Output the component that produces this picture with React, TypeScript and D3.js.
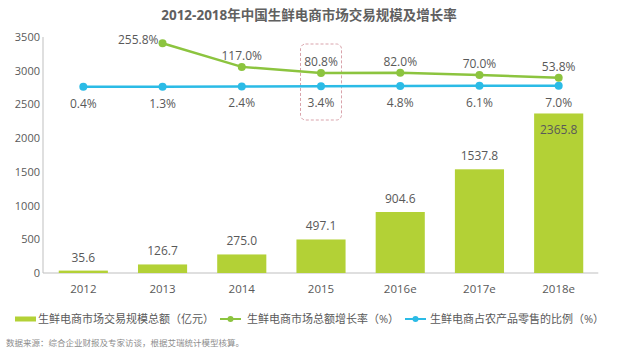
import React from "react";
import * as d3 from "d3";

const categories = ["2012", "2013", "2014", "2015", "2016e", "2017e", "2018e"];
const marketSize = [35.6, 126.7, 275.0, 497.1, 904.6, 1537.8, 2365.8];
const growthRate: (number | null)[] = [null, 255.8, 117.0, 80.8, 82.0, 70.0, 53.8];
const penetration = [0.4, 1.3, 2.4, 3.4, 4.8, 6.1, 7.0];
const yTicks = [0, 500, 1000, 1500, 2000, 2500, 3000, 3500];

const title = "2012-2018年中国生鲜电商市场交易规模及增长率";
const legendLabels = [
  "生鲜电商市场交易规模总额（亿元）",
  "生鲜电商市场总额增长率（%）",
  "生鲜电商占农产品零售的比例（%）",
];
const source = "数据来源：综合企业财报及专家访谈，根据艾瑞统计模型核算。";

const W = 625;
const H = 353;
const BAR = "#b3d136";
const GREEN = "#8cc43f";
const BLUE = "#2bbbe6";
const TEXT = "#595959";
const FONT = "'Open Sans', 'Noto Sans CJK SC', sans-serif";

export default function App() {
  const x = d3.scaleBand<string>().domain(categories).range([43.7, 598.3]).paddingInner(0.38).paddingOuter(0.19);
  const y = d3.scaleLinear().domain([0, 3500]).range([273, 37]);
  const p = d3.scaleLinear().domain([-1090, 292]).range([273, 37]);
  const cx = (c: string) => (x(c) as number) + x.bandwidth() / 2;

  const growthPts = categories
    .map((c, i) => ({ c, v: growthRate[i] }))
    .filter((d) => d.v !== null) as { c: string; v: number }[];
  const penPts = categories.map((c, i) => ({ c, v: penetration[i] }));

  const line = d3
    .line<{ c: string; v: number }>()
    .x((d) => cx(d.c))
    .y((d) => p(d.v));

  const x2015 = cx("2015");

  return (
    <svg
      width={W}
      height={H}
      style={{ position: "absolute", left: 0, top: 0, background: "#fff" }}
      fontFamily={FONT}
    >
      <text x={309} y={20} textAnchor="middle" fontSize={13.5} fontWeight="bold" fill="#606060">
        {title}
      </text>

      {/* axes */}
      <line x1={43} x2={43} y1={y(3500)} y2={y(0)} stroke="#bfbfbf" strokeWidth={1} />
      <line x1={43} x2={598.3} y1={y(0)} y2={y(0)} stroke="#bfbfbf" strokeWidth={1} />
      {yTicks.map((t) => (
        <text key={t} x={40} y={y(t) + 4} textAnchor="end" fontSize={11} fill={TEXT}>
          {t}
        </text>
      ))}
      {categories.map((c) => (
        <text key={c} x={cx(c)} y={293} textAnchor="middle" fontSize={11.5} fill={TEXT}>
          {c}
        </text>
      ))}

      {/* bars */}
      {categories.map((c, i) => {
        const top = y(marketSize[i]);
        const inside = top < 120;
        return (
          <g key={c}>
            <rect x={x(c)} y={top} width={x.bandwidth()} height={y(0) - top} fill={BAR} />
            <text
              x={cx(c)}
              y={inside ? top + 21 : top - 9}
              textAnchor="middle"
              fontSize={12}
              fill={TEXT}
            >
              {marketSize[i].toFixed(1)}
            </text>
          </g>
        );
      })}

      {/* highlight box */}
      <rect
        x={x2015 - 20.5}
        y={44}
        width={41}
        height={76}
        rx={5}
        fill="none"
        stroke="#d9a3ab"
        strokeWidth={1}
        strokeDasharray="3,2"
      />

      {/* lines */}
      <path d={line(penPts) || ""} fill="none" stroke={BLUE} strokeWidth={2.5} />
      <path d={line(growthPts) || ""} fill="none" stroke={GREEN} strokeWidth={2.5} />
      {penPts.map((d) => (
        <g key={"b" + d.c}>
          <circle cx={cx(d.c)} cy={p(d.v)} r={4} fill={BLUE} />
          <text x={cx(d.c)} y={p(d.v) + 21} textAnchor="middle" fontSize={12} fill={TEXT}>
            {d.v.toFixed(1) + "%"}
          </text>
        </g>
      ))}
      {growthPts.map((d, i) => (
        <g key={"g" + d.c}>
          <circle cx={cx(d.c)} cy={p(d.v)} r={4} fill={GREEN} />
          <text
            x={i === 0 ? cx(d.c) - 4 : cx(d.c)}
            y={i === 0 ? p(d.v) + 1 : p(d.v) - 7}
            textAnchor={i === 0 ? "end" : "middle"}
            fontSize={12}
            fill={TEXT}
          >
            {d.v.toFixed(1) + "%"}
          </text>
        </g>
      ))}

      {/* legend */}
      <rect x={15} y={316.5} width={21} height={5} fill={BAR} />
      <text x={38} y={323} fontSize={11} fill={TEXT}>
        {legendLabels[0]}
      </text>
      <line x1={220} x2={241} y1={319} y2={319} stroke={GREEN} strokeWidth={2} />
      <circle cx={230.5} cy={319} r={3} fill={GREEN} />
      <text x={247} y={323} fontSize={11} fill={TEXT}>
        {legendLabels[1]}
      </text>
      <line x1={405} x2={426} y1={319} y2={319} stroke={BLUE} strokeWidth={2} />
      <circle cx={415.5} cy={319} r={3} fill={BLUE} />
      <text x={430} y={323} fontSize={11} fill={TEXT}>
        {legendLabels[2]}
      </text>

      <text x={6} y={346} fontSize={8.5} fill="#8c8c8c">
        {source}
      </text>
    </svg>
  );
}
